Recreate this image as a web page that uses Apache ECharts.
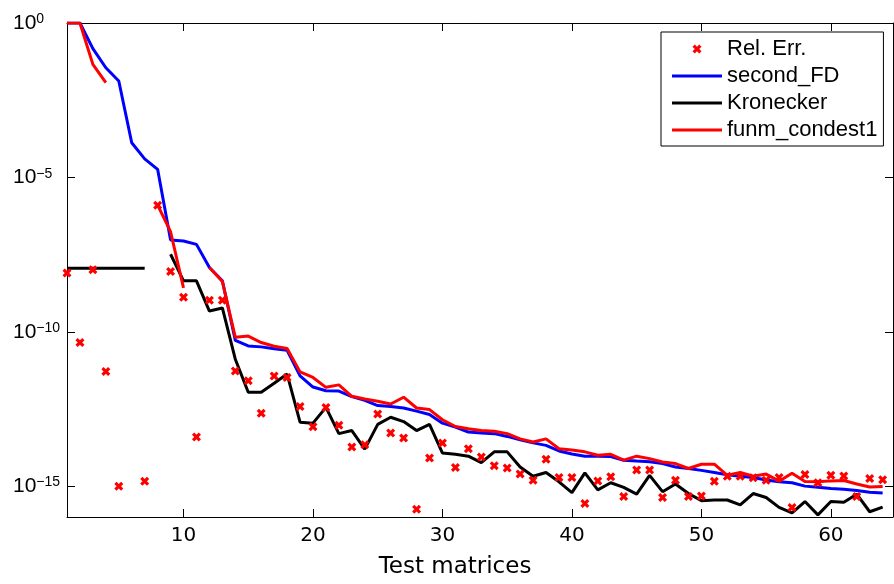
<!DOCTYPE html>
<html>
<head>
<meta charset="utf-8">
<script src="https://cdn.jsdelivr.net/npm/echarts@6/dist/echarts.min.js"></script>
<style>html,body{margin:0;padding:0;background:#fff}#c{width:894px;height:584px}</style>
</head>
<body>
<div id="c"></div>
<script>
// Test matrix indices 1..64 ; values are log10 of the relative error / estimates
var testMatrices = [];
for (var i = 1; i <= 64; i++) testMatrices.push(i);

var xTicks = [10, 20, 30, 40, 50, 60];
var yTicks = [-15, -10, -5, 0];

var relErrLog10 = [
  -8.10, -10.35, -7.99, -11.29, -15.00, null, -14.84, -5.90, -8.05, -8.88,
  -13.41, -8.98, -8.98, -11.27, -11.59, -12.64, -11.43, -11.48, -12.42, -13.08,
  -12.45, -13.03, -13.73, -13.66, -12.66, -13.28, -13.44, -15.75, -14.09, -13.60,
  -14.40, -13.79, -14.06, -14.34, -14.41, -14.61, -14.81, -14.13, -14.72, -14.72,
  -15.56, -14.83, -14.70, -15.34, -14.48, -14.48, -15.37, -14.81, -15.34, -15.32,
  -14.84, -14.68, -14.68, -14.73, -14.81, -14.72, -15.69, -14.62, -14.89, -14.65,
  -14.67, -15.34, -14.75, -14.79
];

var secondFDLog10 = [
  0, 0, -0.83, -1.45, -1.88, -3.88, -4.40, -4.74, -7.03, -7.06,
  -7.17, -7.92, -8.35, -10.28, -10.46, -10.49, -10.55, -10.60, -11.43, -11.79,
  -11.91, -11.92, -12.10, -12.22, -12.39, -12.42, -12.47, -12.57, -12.68, -12.96,
  -13.09, -13.25, -13.28, -13.30, -13.39, -13.50, -13.60, -13.68, -13.86, -13.96,
  -14.03, -14.03, -14.04, -14.16, -14.19, -14.21, -14.27, -14.38, -14.43, -14.49,
  -14.56, -14.63, -14.68, -14.72, -14.80, -14.86, -14.89, -15.00, -15.04, -15.08,
  -15.10, -15.14, -15.20, -15.22
];

var kroneckerLog10 = [
  -7.94, -7.94, -7.94, -7.94, -7.94, -7.94, -7.94, null, -7.49, -8.35,
  -8.35, -9.33, -9.23, -10.89, -11.96, -11.96, -11.67, -11.37, -12.93, -12.96,
  -12.45, -13.30, -13.20, -13.80, -13.00, -12.77, -12.91, -13.20, -13.00, -13.93,
  -13.97, -14.03, -14.24, -13.89, -13.89, -14.38, -14.68, -14.56, -14.86, -15.21,
  -14.57, -15.12, -14.89, -15.04, -15.26, -14.65, -15.18, -14.93, -15.24, -15.47,
  -15.45, -15.45, -15.61, -15.24, -15.37, -15.69, -15.87, -15.50, -15.93, -15.50,
  -15.52, -15.26, -15.83, -15.68
];

var funmCondest1Log10 = [
  0, 0, -1.34, -1.93, null, null, null, -5.90, -6.76, -8.58,
  null, -7.92, -8.37, -10.18, -10.14, -10.35, -10.47, -10.54, -11.30, -11.48,
  -11.80, -11.72, -12.09, -12.18, -12.25, -12.34, -12.12, -12.47, -12.52, -12.85,
  -13.07, -13.14, -13.20, -13.22, -13.30, -13.47, -13.57, -13.47, -13.79, -13.83,
  -13.89, -14.00, -13.97, -14.16, -14.03, -14.11, -14.22, -14.27, -14.43, -14.29,
  -14.29, -14.65, -14.56, -14.68, -14.61, -14.84, -14.58, -14.85, -14.86, -14.83,
  -14.82, -14.93, -15.03, -15.01
];

function pairs(ys) {
  return testMatrices.map(function (x, k) { return [x, ys[k]]; });
}

var crossPath = 'path://M0,2.5 L2.5,0 L5,2.5 L7.5,0 L10,2.5 L7.5,5 L10,7.5 L7.5,10 L5,7.5 L2.5,10 L0,7.5 L2.5,5 Z';
var lineIcon = 'path://M0,0 L50,0 L50,3 L0,3 Z';

var chart = echarts.init(document.getElementById('c'), null, {renderer: 'canvas'});

var xBase = {
  type: 'value', min: 1, max: 64.8,
  splitLine: {show: false},
  axisLine: {show: true, onZero: false, lineStyle: {color: '#000', width: 1}},
  axisTick: {show: true, inside: true, length: 8, customValues: xTicks, lineStyle: {color: '#000'}}
};
var yBase = {
  type: 'value', min: -16, max: 0,
  splitLine: {show: false},
  axisLine: {show: true, onZero: false, lineStyle: {color: '#000', width: 1}},
  axisTick: {show: true, inside: true, length: 8, customValues: yTicks, lineStyle: {color: '#000'}}
};

chart.setOption({
  animation: false,
  backgroundColor: '#fff',
  grid: {left: 67, right: 1, top: 23, bottom: 63, containLabel: false},
  legend: {
    orient: 'vertical',
    left: 661, top: 32,
    padding: [6, 6, 5, 11],
    itemGap: 5,
    itemWidth: 50,
    itemHeight: 9,
    backgroundColor: '#fff',
    borderColor: '#000',
    borderWidth: 1,
    borderRadius: 0,
    textStyle: {fontFamily: 'Liberation Sans', fontSize: 22, color: '#000', lineHeight: 22},
    data: [
      {name: 'Rel. Err.'},
      {name: 'second_FD', icon: lineIcon},
      {name: 'Kronecker', icon: lineIcon},
      {name: 'funm_condest1', icon: lineIcon}
    ]
  },
  xAxis: [
    Object.assign({}, xBase, {
      position: 'bottom',
      axisLabel: {show: true, customValues: xTicks, margin: 9,
        fontFamily: 'DejaVu Sans', fontSize: 20, color: '#000'},
      name: 'Test matrices', nameLocation: 'middle', nameGap: 39,
      nameTextStyle: {fontFamily: 'DejaVu Sans', fontSize: 23, color: '#000', padding: [0, 50, 0, 0]}
    }),
    Object.assign({}, xBase, {position: 'top', axisLabel: {show: false}})
  ],
  yAxis: [
    Object.assign({}, yBase, {
      position: 'left',
      axisLabel: {
        show: true, customValues: yTicks, align: 'left', margin: 54,
        fontFamily: 'Liberation Sans', fontSize: 21, color: '#000',
        formatter: function (v) {
          return v === 0 ? '10{s|0}' : '10{s|\u2212' + (-v) + '}';
        },
        rich: {s: {fontFamily: 'Liberation Sans', fontSize: 14, color: '#000', verticalAlign: 'top'}}
      }
    }),
    Object.assign({}, yBase, {position: 'right', axisLabel: {show: false}})
  ],
  series: [
    {
      name: 'Rel. Err.', type: 'scatter', xAxisIndex: 0, yAxisIndex: 0,
      symbol: crossPath, symbolSize: 9, z: 5,
      itemStyle: {color: '#ff0000', opacity: 1},
      data: pairs(relErrLog10)
    },
    {
      name: 'second_FD', type: 'line', xAxisIndex: 0, yAxisIndex: 0,
      symbol: 'none', showSymbol: false, z: 2,
      lineStyle: {color: '#0000ff', width: 3},
      itemStyle: {color: '#0000ff'},
      data: pairs(secondFDLog10)
    },
    {
      name: 'Kronecker', type: 'line', xAxisIndex: 0, yAxisIndex: 0,
      symbol: 'none', showSymbol: false, z: 3,
      lineStyle: {color: '#000000', width: 3},
      itemStyle: {color: '#000000'},
      data: pairs(kroneckerLog10)
    },
    {
      name: 'funm_condest1', type: 'line', xAxisIndex: 0, yAxisIndex: 0,
      symbol: 'none', showSymbol: false, z: 4,
      lineStyle: {color: '#ff0000', width: 3},
      itemStyle: {color: '#ff0000'},
      data: pairs(funmCondest1Log10)
    }
  ]
});
</script>
</body>
</html>
